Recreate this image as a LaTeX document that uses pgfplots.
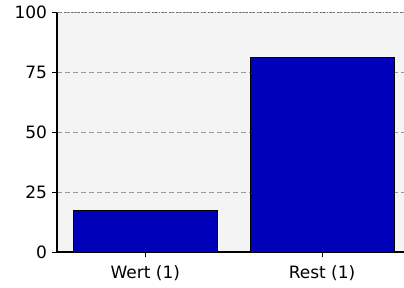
\documentclass[border=0pt]{standalone}
\usepackage{pgfplots}
\pgfplotsset{compat=1.18}
\usepackage{fontspec}
\setmainfont{DejaVu Sans}
\definecolor{bgc}{HTML}{F4F4F4}
\definecolor{barc}{HTML}{0000BB}
\definecolor{gridc}{HTML}{999999}
\begin{document}
\begin{tikzpicture}
\begin{axis}[
  at={(57bp,35.7bp)}, anchor=south west,
  scale only axis, width=347bp, height=240bp,
  xmin=-0.5, xmax=1.464, ymin=0, ymax=100,
  axis x line*=bottom, axis y line*=left,
  axis line style={black, line width=1.4bp},
  x axis line style={line width=2bp},
  axis background/.style={fill=bgc},
  xtick={0,1}, xticklabels={Wert (1), Rest (1)},
  ytick={0,25,50,75,100},
  tick align=outside, major tick length=5bp,
  tick style={black, line width=1bp},
  ymajorgrids, grid style={gridc, dash pattern=on 5bp off 3bp, line width=1.2bp},
  tick label style={font=\fontsize{17bp}{20bp}\selectfont, text=black},
  yticklabel style={xshift=-1.5bp},
  xticklabel style={yshift=-5bp},
  /pgf/number format/assume math mode=true,
  ybar, bar width=144bp, bar shift=0pt,
]
\addplot[fill=barc, draw=black, line width=1bp] coordinates {(0,17.4) (1,81)};
\draw[gridc!70!black, dash pattern=on 1.5bp off 2bp, line width=1.2bp] (rel axis cs:0,1) -- (rel axis cs:1,1);
\end{axis}
\pgfresetboundingbox
\path[use as bounding box] (0,0) rectangle (404bp,288bp);
\end{tikzpicture}
\end{document}
